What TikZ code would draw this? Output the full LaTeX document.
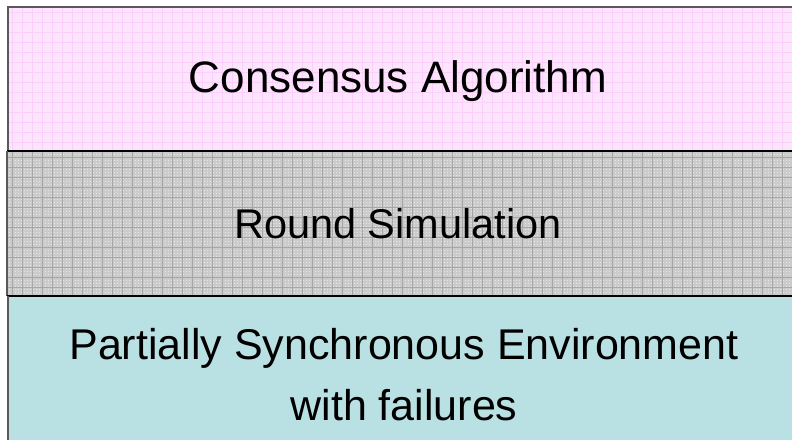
\documentclass[tikz,border=0pt]{standalone}
\usepackage{fontspec}
\setmainfont{Liberation Sans}
\definecolor{pinkbg}{HTML}{FDE4FD}
\definecolor{pinkgrid}{HTML}{FAD0FA}
\definecolor{graybg}{HTML}{CBCBCB}
\definecolor{graygrid}{HTML}{A6A6A6}
\definecolor{graydot}{HTML}{E6E6E6}
\definecolor{tealbg}{HTML}{B9E0E3}
\definecolor{edgegray}{HTML}{5A5A5A}
\tikzset{
  lbl/.style={text=black, anchor=base, inner sep=0pt, align=center},
}
\begin{document}
\begin{tikzpicture}[x=1pt,y=-1pt]
\useasboundingbox (0,0) rectangle (792,439);
\clip (0,0) rectangle (792,439);
% pink layer
\fill[pinkbg] (8,7) rectangle (800,151);
\begin{scope}
\clip (8,7) rectangle (800,151);
\foreach \x in {12,22,...,800} \draw[pinkgrid, line width=0.8pt] (\x,7) -- (\x,151);
\foreach \y in {12,22,...,151} \draw[pinkgrid, line width=0.8pt] (8,\y) -- (800,\y);
\end{scope}
\draw[edgegray, line width=1.5pt] (800,7) -- (8,7) -- (8,151);
% gray layer
\fill[graybg] (7,151) rectangle (800,296);
\begin{scope}
\clip (7,151) rectangle (800,296);
\foreach \x in {9,12,...,800} \draw[graydot, line width=0.6pt, dash pattern=on 1pt off 2pt] (\x,151) -- (\x,296);
\foreach \x in {12,22,...,800} \draw[graygrid, line width=0.8pt] (\x,151) -- (\x,296);
\foreach \y in {157,167,...,296} \draw[graygrid, line width=0.8pt] (7,\y) -- (800,\y);
\end{scope}
\draw[black, line width=2pt] (7,151) -- (800,151);
\draw[edgegray, line width=1.5pt] (7,151) -- (7,296);
% teal layer
\fill[tealbg] (8,296) rectangle (800,445);
\draw[black, line width=2pt] (7,296) -- (800,296);
\draw[edgegray, line width=1.5pt] (8,296) -- (8,445);
% labels
\node[lbl, font=\fontsize{44}{50}\selectfont] (cons) at (398,92) {Consensus Algorithm};
\node[lbl, font=\fontsize{41.5}{50}\selectfont] (round) at (398,238) {Round Simulation};
\node[lbl, font=\fontsize{43}{50}\selectfont] (env1) at (404,359) {Partially Synchronous Environment};
\node[lbl, font=\fontsize{43}{50}\selectfont] (env2) at (404,420) {with failures};
\end{tikzpicture}
\end{document}
